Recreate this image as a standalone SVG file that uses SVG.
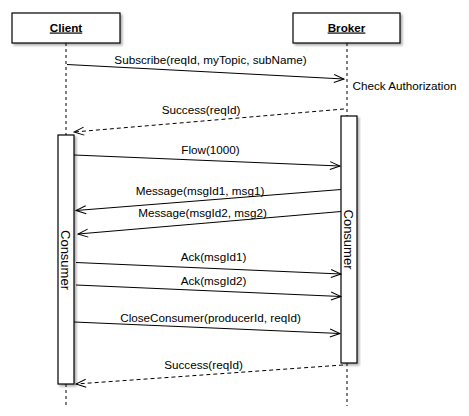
<svg xmlns="http://www.w3.org/2000/svg" width="469" height="416" viewBox="0 0 469 416">
<defs>
<filter id="sh" x="-20%" y="-20%" width="140%" height="140%"><feDropShadow dx="2" dy="2" stdDeviation="1" flood-color="#000" flood-opacity="0.3"/></filter>
<marker id="ah" markerUnits="userSpaceOnUse" markerWidth="12" markerHeight="10" refX="11" refY="5" orient="auto"><path d="M1,1 L11,5 L1,9" fill="none" stroke="#000" stroke-width="1"/></marker>
</defs>
<style>
text{font-family:"Liberation Sans",Arial,sans-serif;font-size:11.7px;fill:#000}
.hd{font-weight:bold;text-decoration:underline}
.rot{font-size:13px}
.box{fill:#fff;stroke:#000;stroke-width:1.2}
.life{stroke:#000;stroke-width:1;stroke-dasharray:3,3;fill:none}
.msg{stroke:#000;stroke-width:1;fill:none;marker-end:url(#ah)}
.ret{stroke:#000;stroke-width:1;fill:none;stroke-dasharray:4,3;marker-end:url(#ah)}
</style>
<rect width="469" height="416" fill="#fff"/>
<g id="lifelines">
<line class="life" x1="66" y1="43" x2="66" y2="135"/>
<line class="life" x1="66" y1="384" x2="66" y2="406"/>
<line class="life" x1="347" y1="43" x2="347" y2="116"/>
<line class="life" x1="347" y1="363" x2="347" y2="406"/>
</g>
<g id="client">
<rect class="box" x="12" y="13" width="108" height="30" filter="url(#sh)"/>
<text class="hd" x="66" y="31.5" text-anchor="middle">Client</text>
</g>
<g id="broker">
<rect class="box" x="293" y="13" width="107" height="30" filter="url(#sh)"/>
<text class="hd" x="346.5" y="31.5" text-anchor="middle">Broker</text>
</g>
<g id="client-consumer">
<rect class="box" x="58" y="135" width="16" height="249" filter="url(#sh)"/>
<text class="rot" transform="translate(61,260) rotate(90)" text-anchor="middle">Consumer</text>
</g>
<g id="broker-consumer">
<rect class="box" x="341" y="116" width="16" height="247" filter="url(#sh)"/>
<text class="rot" transform="translate(343.5,239.5) rotate(90)" text-anchor="middle">Consumer</text>
</g>
<g id="connectors">
<line class="msg" x1="67" y1="64.5" x2="344" y2="79"/>
<line class="ret" x1="344" y1="109" x2="74" y2="132"/>
<line class="msg" x1="74" y1="155" x2="340" y2="166"/>
<line class="msg" x1="341" y1="189.5" x2="76" y2="210.5"/>
<line class="msg" x1="341" y1="211.5" x2="78" y2="234"/>
<line class="msg" x1="76" y1="262.5" x2="341" y2="274"/>
<line class="msg" x1="76" y1="285" x2="341" y2="296.5"/>
<line class="msg" x1="74" y1="322" x2="340" y2="333.5"/>
<line class="ret" x1="343" y1="365" x2="76" y2="384"/>
</g>
<g id="labels">
<text x="210.5" y="64" text-anchor="middle">Subscribe(reqId, myTopic, subName)</text>
<text x="352.5" y="90">Check Authorization</text>
<text x="201" y="114" text-anchor="middle">Success(reqId)</text>
<text x="210.5" y="154" text-anchor="middle">Flow(1000)</text>
<text x="200" y="194.5" text-anchor="middle">Message(msgId1, msg1)</text>
<text x="202.5" y="216.5" text-anchor="middle">Message(msgId2, msg2)</text>
<text x="213.5" y="261" text-anchor="middle">Ack(msgId1)</text>
<text x="213.5" y="284.5" text-anchor="middle">Ack(msgId2)</text>
<text x="210.5" y="321.5" text-anchor="middle">CloseConsumer(producerId, reqId)</text>
<text x="203.5" y="369" text-anchor="middle">Success(reqId)</text>
</g>
</svg>
